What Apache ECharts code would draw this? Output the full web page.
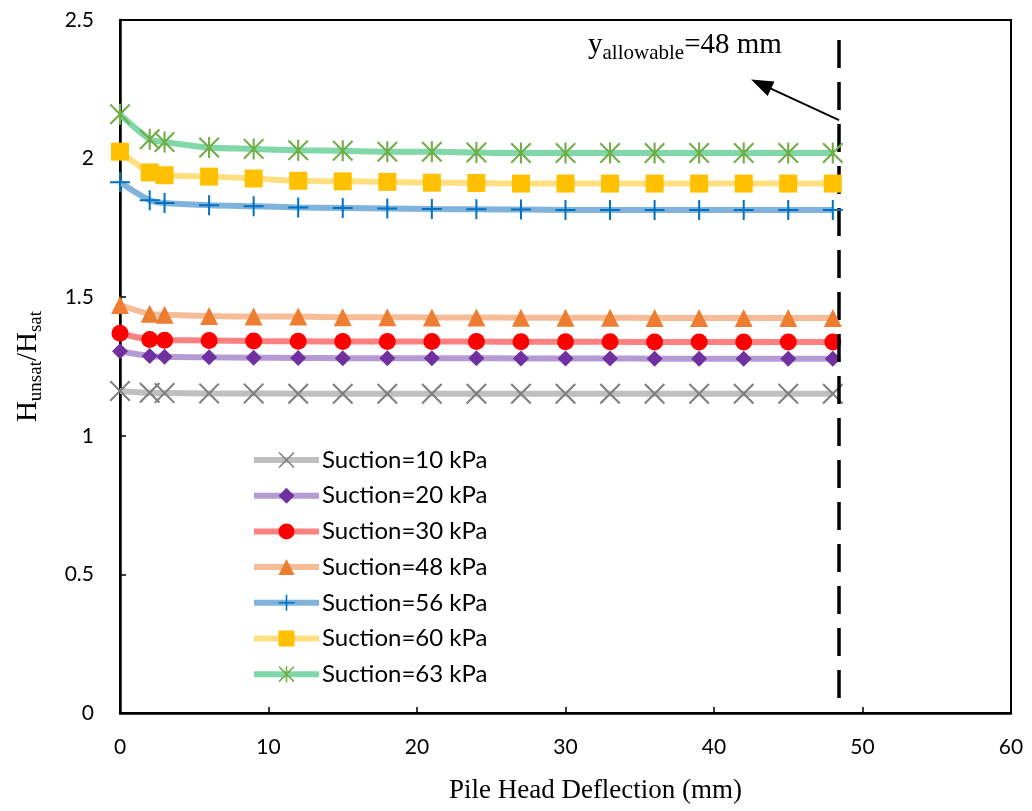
<!DOCTYPE html>
<html>
<head>
<meta charset="utf-8">
<script src="https://cdn.jsdelivr.net/npm/echarts@6/dist/echarts.min.js"></script>
<style>
html,body{margin:0;padding:0;background:#fff;}
#chart{width:1032px;height:811px;}
</style>
</head>
<body>
<div id="chart"></div>
<script>
// ---- data ----
const deflection = [0, 2, 3, 6, 9, 12, 15, 18, 21, 24, 27, 30, 33, 36, 39, 42, 45, 48];
const seriesNames = ['Suction=10 kPa','Suction=20 kPa','Suction=30 kPa','Suction=48 kPa','Suction=56 kPa','Suction=60 kPa','Suction=63 kPa'];
const s10 = [1.162,1.155,1.154,1.153,1.153,1.152,1.152,1.152,1.152,1.152,1.152,1.152,1.152,1.152,1.152,1.152,1.152,1.152];
const s20 = [1.305,1.288,1.285,1.283,1.282,1.281,1.280,1.280,1.280,1.280,1.279,1.279,1.279,1.278,1.278,1.278,1.278,1.278];
const s30 = [1.370,1.347,1.345,1.344,1.342,1.341,1.340,1.340,1.340,1.340,1.339,1.339,1.339,1.338,1.338,1.338,1.338,1.338];
const s48 = [1.472,1.440,1.437,1.432,1.430,1.430,1.428,1.428,1.427,1.427,1.426,1.426,1.426,1.425,1.425,1.425,1.425,1.425];
const s56 = [1.915,1.850,1.840,1.832,1.828,1.824,1.822,1.820,1.818,1.817,1.816,1.815,1.815,1.815,1.815,1.815,1.815,1.815];
const s60 = [2.025,1.950,1.940,1.935,1.928,1.920,1.918,1.916,1.913,1.912,1.910,1.910,1.910,1.910,1.910,1.910,1.910,1.910];
const s63 = [2.160,2.070,2.060,2.040,2.035,2.030,2.028,2.025,2.025,2.022,2.020,2.020,2.020,2.020,2.020,2.020,2.020,2.020];
const allowable = 48.4;        // vertical dashed line position (mm)
const arrowFrom = [48.42, 2.139];
const arrowTo = [43.17, 2.269];
const xTicks = {min: 0, max: 60, interval: 10};
const yTicks = {min: 0, max: 2.5, interval: 0.5};

// ---- styles ----
const SYM_X = 'path://M0,1.4L1.4,0L10,8.6L18.6,0L20,1.4L11.4,10L20,18.6L18.6,20L10,11.4L1.4,20L0,18.6L8.6,10Z';
const SYM_PLUS = 'path://M9,0L11,0L11,9L20,9L20,11L11,11L11,20L9,20L9,11L0,11L0,9L9,9Z';
const SYM_STAR = 'path://M0,1.4L1.4,0L10,8.6L18.6,0L20,1.4L11.4,10L20,18.6L18.6,20L10,11.4L1.4,20L0,18.6L8.6,10Z M9,0L11,0L11,20L9,20Z';
const styles = [
  {line:'#BFBFBF', mark:'#7F7F7F', symbol:SYM_X, size:21},
  {line:'#B59BD3', mark:'#7030A0', symbol:'diamond', size:16},
  {line:'#FF8080', mark:'#FF0000', symbol:'circle', size:17},
  {line:'#F6BC98', mark:'#ED7D31', symbol:'triangle', size:18},
  {line:'#7FB3DC', mark:'#0070C0', symbol:SYM_PLUS, size:20},
  {line:'#FFDF80', mark:'#FFC000', symbol:'rect', size:18},
  {line:'#80D8A8', mark:'#70AD47', symbol:SYM_STAR, size:21}
];
const values = [s10, s20, s30, s48, s56, s60, s63];

const series = values.map((vals, i) => ({
  name: seriesNames[i],
  type: 'line',
  data: deflection.map((x, j) => [x, vals[j]]),
  smooth: 0.3,
  symbol: styles[i].symbol,
  symbolSize: styles[i].size,
  showAllSymbol: true,
  lineStyle: {color: styles[i].line, width: 6},
  itemStyle: {color: styles[i].mark, borderWidth: 0},
  emphasis: {disabled: true},
  animation: false,
  z: 2 + i
}));

series.push({
  name: 'annot',
  type: 'line',
  data: [],
  animation: false,
  z: 20,
  markLine: {
    silent: true,
    animation: false,
    label: {show: false},
    data: [
      [
        {coord: [allowable, 2.428], symbol: 'none', lineStyle: {color: '#000', width: 3.5, type: [28, 14]}},
        {coord: [allowable, 0], symbol: 'none'}
      ],
      [
        {coord: arrowFrom, symbol: 'none', lineStyle: {color: '#000', width: 2, type: 'solid'}},
        {coord: arrowTo, symbol: 'triangle', symbolSize: [16, 22]}
      ]
    ]
  }
});

const chart = echarts.init(document.getElementById('chart'), null, {renderer: 'canvas'});
chart.setOption({
  backgroundColor: '#fff',
  animation: false,
  grid: {left: 120, right: 21, top: 20, bottom: 98, show: true, borderColor: '#000', borderWidth: 2, backgroundColor: 'transparent'},
  legend: {
    orient: 'vertical',
    left: 246,
    top: 443,
    itemWidth: 65,
    itemHeight: 20,
    itemGap: 11.7,
    data: seriesNames,
    lineStyle: {width: 6},
    textStyle: {fontFamily: 'Lato', fontSize: 24, color: '#000', padding: [0,0,0,-2]},
    selectedMode: false
  },
  xAxis: {
    type: 'value',
    min: xTicks.min, max: xTicks.max, interval: xTicks.interval,
    name: 'Pile Head Deflection (mm)',
    nameLocation: 'middle',
    nameGap: 64,
    nameTextStyle: {fontFamily: 'Liberation Serif', fontSize: 27, color: '#000', padding: [0,0,0,60]},
    axisLine: {lineStyle: {color: '#000', width: 2.5}},
    axisTick: {inside: true, length: 6, lineStyle: {color: '#000', width: 1.5}},
    axisLabel: {fontFamily: 'Lato', fontSize: 21, color: '#000', margin: 24},
    splitLine: {show: false}
  },
  yAxis: {
    type: 'value',
    min: yTicks.min, max: yTicks.max, interval: yTicks.interval,
    name: '{a|H}{s|unsat}{a|/H}{s|sat}',
    nameLocation: 'middle',
    nameGap: 74,
    nameRotate: 90,
    nameTextStyle: {
      color: '#000',
      rich: {
        a: {fontFamily: 'Liberation Serif', fontSize: 29, lineHeight: 36, color: '#000'},
        s: {fontFamily: 'Liberation Serif', fontSize: 19, lineHeight: 16, verticalAlign: 'bottom', color: '#000'}
      }
    },
    axisLine: {lineStyle: {color: '#000', width: 2.5}},
    axisTick: {inside: true, length: 6, lineStyle: {color: '#000', width: 1.5}},
    axisLabel: {fontFamily: 'Lato', fontSize: 21, color: '#000', margin: 26},
    splitLine: {show: false}
  },
  graphic: [{
    type: 'text',
    left: 588,
    top: 31,
    z: 30,
    style: {
      text: '{a|y}{s|allowable}{a|=48 mm}',
      rich: {
        a: {fontFamily: 'Liberation Serif', fontSize: 29, lineHeight: 36, fill: '#000'},
        s: {fontFamily: 'Liberation Serif', fontSize: 21, lineHeight: 15, verticalAlign: 'bottom', fill: '#000'}
      }
    }
  }],
  series: series
});
</script>
</body>
</html>
